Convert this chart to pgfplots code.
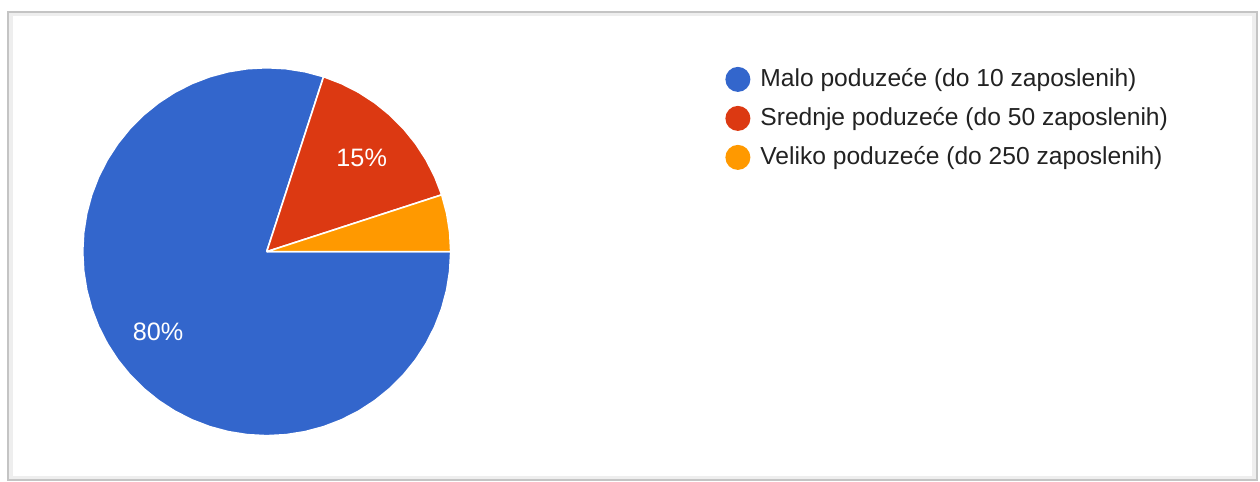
\documentclass[border=0pt]{standalone}
\usepackage{pgfplots}
\pgfplotsset{compat=1.18}
\usepackage{fontspec}
\setmainfont{Liberation Sans}
\definecolor{gblue}{HTML}{3366CC}
\definecolor{gred}{HTML}{DC3912}
\definecolor{gorange}{HTML}{FF9900}
\definecolor{txt}{HTML}{222222}
\definecolor{framecol}{HTML}{C4C4C4}
\definecolor{shadowcol}{HTML}{EEEEEE}

\begin{document}
\begin{tikzpicture}
\begin{axis}[
    width=630pt, height=241pt, scale only axis,
    % 1 unit = 1 px of the reference, origin at the pie centre
    xmin=-266.7, xmax=993.3,
    ymin=-230.3, ymax=251.7,
    hide axis, clip=false,
    slice/.style={draw=white, line width=0.8pt, line join=round},
    legend style={at={(axis cs:458.3,185.2)}, anchor=north west,
        draw=none, fill=none, inner sep=0pt,
        row sep=7pt, column sep=5pt,
        font=\fontsize{12.3}{14}\selectfont\color{txt},
        nodes={inner sep=0pt}},
    legend cell align=left,
    legend image code/.code={\path[#1, draw=none] (0pt,0pt) circle[radius=6.25pt];},
]
% page frame with soft shadow
\path (rel axis cs:0,0) rectangle (rel axis cs:1,1);
\draw[shadowcol, line width=2pt] (axis cs:-256.2,237.2) rectangle (axis cs:987.3,-226.3);
\draw[framecol, line width=1pt] (axis cs:-258.7,239.7) rectangle (axis cs:989.8,-228.8);

% Malo poduzece: 80 % (0 deg clockwise to -288 deg), radius 184 px
\addplot[slice, fill=gblue, data cs=polar] coordinates {
    (0,0) (0,184) (-6,184) (-12,184) (-18,184) (-24,184) (-30,184) (-36,184)
    (-42,184) (-48,184) (-54,184) (-60,184) (-66,184) (-72,184) (-78,184)
    (-84,184) (-90,184) (-96,184) (-102,184) (-108,184) (-114,184) (-120,184)
    (-126,184) (-132,184) (-138,184) (-144,184) (-150,184) (-156,184)
    (-162,184) (-168,184) (-174,184) (-180,184) (-186,184) (-192,184)
    (-198,184) (-204,184) (-210,184) (-216,184) (-222,184) (-228,184)
    (-234,184) (-240,184) (-246,184) (-252,184) (-258,184) (-264,184)
    (-270,184) (-276,184) (-282,184) (-288,184) (0,0)
};
\addlegendentry{Malo poduzeće (do 10 zaposlenih)}

% Srednje poduzece: 15 % (72 deg to 18 deg)
\addplot[slice, fill=gred, data cs=polar] coordinates {
    (0,0) (72,184) (66,184) (60,184) (54,184) (48,184) (42,184) (36,184)
    (30,184) (24,184) (18,184) (0,0)
};
\addlegendentry{Srednje poduzeće (do 50 zaposlenih)}

% Veliko poduzece: 5 % (18 deg to 0 deg)
\addplot[slice, fill=gorange, data cs=polar] coordinates {
    (0,0) (18,184) (12,184) (6,184) (0,184) (0,0)
};
\addlegendentry{Veliko poduzeće (do 250 zaposlenih)}

\node[white, font=\fontsize{12.6}{14}\selectfont] at (axis cs:-108.7,-80.3) {80\%};
\node[white, font=\fontsize{12.6}{14}\selectfont] at (axis cs:95,93.7) {15\%};
\end{axis}
\end{tikzpicture}
\end{document}
